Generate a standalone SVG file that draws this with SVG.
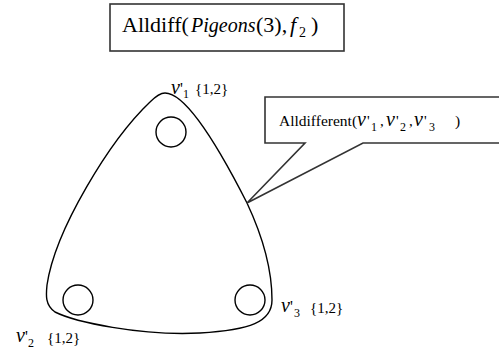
<svg xmlns="http://www.w3.org/2000/svg" width="499" height="354" viewBox="0 0 499 354">
<style>
.ln{fill:none;stroke:#000;stroke-width:1.4}
.bx{fill:#fff;stroke:#333;stroke-width:1.6}
.t{font-family:'Liberation Serif','Times New Roman',serif;fill:#000}
.i{font-style:italic}
</style>
<rect width="499" height="354" fill="#fff"/>
<g id="title">
<rect class="bx" x="110" y="4" width="234" height="47"/>
<text class="t" font-size="22" y="32"><tspan x="122">Alldiff(</tspan><tspan class="i" x="191" font-size="20">Pigeons</tspan><tspan x="256">(3),</tspan><tspan class="i" x="290">f</tspan><tspan x="299" y="37" font-size="14">2</tspan><tspan x="311" y="32">)</tspan></text>
</g>
<g id="domain">
<path class="ln" d="M165,93 C185,93 215,140 247,203 C262,235 272,270 272,300 C272,322 250,330 200,333 C140,336 75,322 55,312 C45,305 46,295 47,285 C55,230 110,140 150,102 C155,97 160,93 165,93 Z"/>
</g>
<g id="v1">
<circle class="ln" cx="171" cy="132" r="15"/>
<text class="t" y="94"><tspan class="i" x="171" font-size="20">v</tspan><tspan x="180" font-size="16">'</tspan><tspan x="183" y="98" font-size="12">1</tspan><tspan x="195" y="94" font-size="15">{1,2}</tspan></text>
</g>
<g id="v2">
<circle class="ln" cx="78" cy="300" r="15"/>
<text class="t" y="342"><tspan class="i" x="16" font-size="20">v</tspan><tspan x="25" font-size="16">'</tspan><tspan x="28" y="347" font-size="12">2</tspan><tspan x="47" y="343" font-size="15">{1,2}</tspan></text>
</g>
<g id="v3">
<circle class="ln" cx="250" cy="300" r="15"/>
<text class="t" y="312"><tspan class="i" x="281" font-size="20">v</tspan><tspan x="290" font-size="16">'</tspan><tspan x="294" y="317" font-size="12">3</tspan><tspan x="310" y="313" font-size="15">{1,2}</tspan></text>
</g>
<g id="callout">
<path class="bx" d="M305,143 L265,143 L265,97 L501,97 L501,143 L363,143 L247,203 Z"/>
<text class="t" y="126"><tspan x="279" font-size="15.5">Alldifferent(</tspan><tspan class="i" x="357" font-size="20">v</tspan><tspan x="367" font-size="15">'</tspan><tspan x="371" y="131" font-size="12">1</tspan><tspan x="380" y="126" font-size="15">,</tspan><tspan class="i" x="386" font-size="20">v</tspan><tspan x="396" font-size="15">'</tspan><tspan x="400" y="131" font-size="12">2</tspan><tspan x="409" y="126" font-size="15">,</tspan><tspan class="i" x="414" font-size="20">v</tspan><tspan x="424" font-size="15">'</tspan><tspan x="429" y="131" font-size="12">3</tspan><tspan x="455" y="126" font-size="15.5">)</tspan></text>
</g>
<g id="connectors"></g>
</svg>
